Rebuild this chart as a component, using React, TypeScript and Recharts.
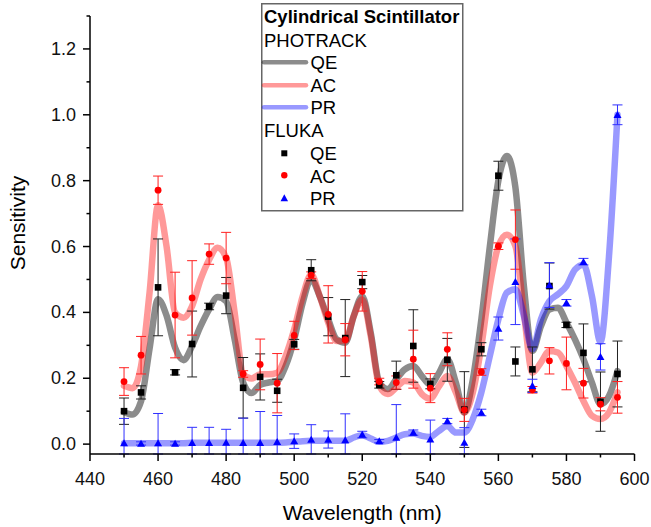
import React from "react";
import { ComposedChart, Line, Scatter, ErrorBar, XAxis, YAxis, Legend } from "recharts";

const FONT = "'Liberation Sans', Arial, Helvetica, sans-serif";

// FLUKA points (every 5 nm)
const flukaWl = [450, 455, 460, 465, 470, 475, 480, 485, 490, 495, 500, 505, 510, 515, 520, 525, 530, 535, 540, 545, 550, 555, 560, 565, 570, 575, 580, 585, 590, 595];
const flukaQE = [0.1, 0.157, 0.476, 0.218, 0.304, 0.418, 0.451, 0.171, 0.204, 0.162, 0.303, 0.528, 0.387, 0.322, 0.492, 0.18, 0.209, 0.298, 0.183, 0.256, 0.105, 0.288, 0.815, 0.251, 0.227, 0.48, 0.362, 0.277, 0.129, 0.213];
const flukaQEErr = [0.04, 0.02, 0.147, 0.008, 0.1, 0.01, 0.055, 0.092, 0.07, 0.035, 0.015, 0.032, 0.058, 0.117, 0.02, 0.01, 0.043, 0.11, 0.015, 0.065, 0.115, 0.02, 0.044, 0.044, 0.068, 0.07, 0.008, 0.088, 0.09, 0.1];
const flukaAC = [0.19, 0.27, 0.771, 0.392, 0.444, 0.577, 0.565, 0.213, 0.242, 0.185, 0.33, 0.513, 0.394, 0.317, 0.464, 0.19, 0.187, 0.258, 0.17, 0.288, 0.104, 0.219, 0.601, 0.621, 0.165, 0.253, 0.245, 0.185, 0.121, 0.142];
const flukaACErr = [0.042, 0.057, 0.043, 0.13, 0.113, 0.031, 0.078, 0.01, 0.077, 0.09, 0.043, 0.01, 0.087, 0.049, 0.06, 0.01, 0.02, 0.088, 0.044, 0.05, 0.035, 0.01, 0.01, 0.09, 0.01, 0.04, 0.08, 0.045, 0.02, 0.048];
const flukaPR = [0.003, 0.002, 0.003, 0.002, 0.004, 0.004, 0.005, 0.004, 0.004, 0.007, 0.009, 0.014, 0.014, 0.012, 0.029, 0.009, 0.02, 0.035, 0.015, 0.07, 0.005, 0.096, 0.351, 0.493, 0.177, 0.483, 0.429, 0.554, 0.265, 1.0];
const flukaPRErr = [0.075, 0.005, 0.09, 0.005, 0.047, 0.047, 0.04, 0.075, 0.095, 0.08, 0.022, 0.045, 0.026, 0.08, 0.01, 0.005, 0.1, 0.008, 0.058, 0.008, 0.045, 0.01, 0.035, 0.13, 0.02, 0.068, 0.01, 0.01, 0.04, 0.03];

// PHOTRACK curves (every 2.5 nm)
const photWl = [450, 452.5, 455, 457.5, 460, 462.5, 465, 467.5, 470, 472.5, 475, 477.5, 480, 482.5, 485, 487.5, 490, 492.5, 495, 497.5, 500, 502.5, 505, 507.5, 510, 512.5, 515, 517.5, 520, 522.5, 525, 527.5, 530, 532.5, 535, 537.5, 540, 542.5, 545, 547.5, 550, 552.5, 555, 557.5, 560, 562.5, 565, 567.5, 570, 572.5, 575, 577.5, 580, 582.5, 585, 587.5, 590, 592.5, 595];
const photQE = [0.097, 0.09, 0.13, 0.29, 0.44, 0.39, 0.293, 0.255, 0.298, 0.358, 0.409, 0.447, 0.434, 0.318, 0.187, 0.155, 0.18, 0.187, 0.192, 0.237, 0.318, 0.429, 0.5, 0.449, 0.379, 0.318, 0.308, 0.389, 0.449, 0.338, 0.187, 0.167, 0.197, 0.227, 0.237, 0.207, 0.18, 0.215, 0.258, 0.187, 0.096, 0.197, 0.379, 0.601, 0.8, 0.875, 0.78, 0.48, 0.283, 0.358, 0.409, 0.414, 0.369, 0.318, 0.258, 0.187, 0.121, 0.146, 0.222];
const photAC = [0.177, 0.17, 0.237, 0.46, 0.725, 0.6, 0.399, 0.384, 0.419, 0.5, 0.56, 0.596, 0.566, 0.4, 0.212, 0.199, 0.212, 0.212, 0.217, 0.268, 0.348, 0.449, 0.515, 0.449, 0.369, 0.313, 0.313, 0.389, 0.439, 0.328, 0.177, 0.152, 0.172, 0.192, 0.187, 0.152, 0.138, 0.175, 0.207, 0.157, 0.096, 0.157, 0.298, 0.48, 0.601, 0.636, 0.601, 0.399, 0.217, 0.248, 0.283, 0.278, 0.237, 0.187, 0.131, 0.086, 0.076, 0.096, 0.157];
const photPR = [0.003, 0.003, 0.003, 0.003, 0.003, 0.003, 0.003, 0.003, 0.004, 0.004, 0.004, 0.004, 0.004, 0.004, 0.004, 0.004, 0.004, 0.004, 0.004, 0.005, 0.007, 0.009, 0.01, 0.01, 0.01, 0.01, 0.01, 0.02, 0.027, 0.017, 0.007, 0.01, 0.02, 0.03, 0.032, 0.025, 0.022, 0.04, 0.055, 0.035, 0.035, 0.076, 0.157, 0.268, 0.379, 0.46, 0.47, 0.389, 0.288, 0.379, 0.434, 0.455, 0.48, 0.53, 0.545, 0.449, 0.31, 0.57, 1.0];

const xTicks = [440, 450, 460, 470, 480, 490, 500, 510, 520, 530, 540, 550, 560, 570, 580, 590, 600];
const yTicks = [0, 0.1, 0.2, 0.3, 0.4, 0.5, 0.6, 0.7, 0.8, 0.9, 1.0, 1.1, 1.2, 1.3];
const Y_MIN = -0.03;
const Y_MAX = 1.3;

const curve = (ys: number[]) => photWl.map((x, i) => ({ x, y: ys[i] }));
// error bars are cut off at the bottom of the axis, like in the original plot
const points = (ys: number[], errs: number[]) =>
  flukaWl.map((x, i) => ({ x, y: ys[i], err: [Math.min(errs[i], ys[i] - Y_MIN), errs[i]] }));

const QE_LINE = { stroke: "#000", opacity: 0.45 };
const AC_LINE = { stroke: "#ff0000", opacity: 0.4 };
const PR_LINE = { stroke: "#0000ff", opacity: 0.4 };

function XTick({ x, y, payload }: any) {
  const major = payload.value % 20 === 0;
  return (
    <g>
      <line x1={x} x2={x} y1={y} y2={y + (major ? 7 : 3.5)} stroke="#000" strokeWidth={1.5} />
      {major && (
        <text x={x} y={y + 30.5} textAnchor="middle" fontSize={18} fontFamily={FONT} fill="#111">
          {payload.value}
        </text>
      )}
    </g>
  );
}

function YTick({ x, y, payload }: any) {
  const major = Math.round(payload.value * 10) % 2 === 0;
  return (
    <g>
      <line x1={x - (major ? 7 : 3.5)} x2={x} y1={y} y2={y} stroke="#000" strokeWidth={1.5} />
      {major && (
        <text x={x - 14} y={y + 6} textAnchor="end" fontSize={18} fontFamily={FONT} fill="#111">
          {payload.value.toFixed(1)}
        </text>
      )}
    </g>
  );
}

const Square = ({ cx, cy, fill = "#000", s = 6.6 }: any) => <rect x={cx - s / 2} y={cy - s / 2} width={s} height={s} fill={fill} />;
const Dot = ({ cx, cy, fill = "#ff0000", r = 3.4 }: any) => <circle cx={cx} cy={cy} r={r} fill={fill} />;
const Tri = ({ cx, cy, fill = "#0000ff", w = 8 }: any) => (
  <polygon points={`${cx - w / 2},${cy + 3.2} ${cx + w / 2},${cy + 3.2} ${cx},${cy - 3.8}`} fill={fill} />
);

function LegendBox() {
  const t = { fontFamily: FONT, fontSize: 18.5, fill: "#000" } as const;
  return (
    <svg width={203} height={209} style={{ display: "block" }}>
      <rect x={0.75} y={0.75} width={201} height={207} fill="#fff" stroke="#666" strokeWidth={1.5} />
      <text x={3} y={19.7} {...t} fontWeight="bold">Cylindrical Scintillator</text>
      <text x={3} y={43.7} {...t}>PHOTRACK</text>
      <line x1={3} x2={45} y1={59.3} y2={59.3} strokeWidth={4.5} strokeLinecap="round" stroke={QE_LINE.stroke} strokeOpacity={QE_LINE.opacity} />
      <text x={49.5} y={65.5} {...t}>QE</text>
      <line x1={3} x2={45} y1={82.3} y2={82.3} strokeWidth={4.5} strokeLinecap="round" stroke={AC_LINE.stroke} strokeOpacity={AC_LINE.opacity} />
      <text x={49.5} y={88.7} {...t}>AC</text>
      <line x1={3} x2={45} y1={104.3} y2={104.3} strokeWidth={4.5} strokeLinecap="round" stroke={PR_LINE.stroke} strokeOpacity={PR_LINE.opacity} />
      <text x={49.5} y={111} {...t}>PR</text>
      <text x={3} y={134.3} {...t}>FLUKA</text>
      <Square cx={23.3} cy={150.3} s={6} />
      <text x={49} y={157} {...t}>QE</text>
      <Dot cx={23.3} cy={172.3} r={3.2} />
      <text x={49} y={179.7} {...t}>AC</text>
      <Tri cx={23.3} cy={195} w={7.5} />
      <text x={49} y={201.7} {...t}>PR</text>
    </svg>
  );
}

const yLabel = (props: any) => {
  const vb = props.viewBox;
  const cy = vb.y + vb.height / 2 - 12;
  return (
    <text x={25} y={cy} transform={`rotate(-90, 25, ${cy})`} textAnchor="middle" fontSize={21} fontFamily={FONT} fill="#000">
      Sensitivity
    </text>
  );
};

export default function App() {
  return (
    <div style={{ position: "absolute", left: 0, top: 0, width: 651, height: 527, background: "#fff" }}>
      <ComposedChart width={651} height={527} margin={{ top: 16, right: 16.5, bottom: 0, left: 0 }}>
        <XAxis
          type="number"
          dataKey="x"
          domain={[440, 600]}
          ticks={xTicks}
          interval={0}
          allowDataOverflow
          height={73}
          tickSize={0}
          tickMargin={0}
          tickLine={false}
          tick={<XTick />}
          axisLine={{ stroke: "#000", strokeWidth: 1.5 }}
          label={{ value: "Wavelength (nm)", position: "insideBottom", offset: 7, fontSize: 21, fontFamily: FONT, fill: "#000" }}
        />
        <YAxis
          type="number"
          dataKey="y"
          domain={[Y_MIN, Y_MAX]}
          ticks={yTicks}
          interval={0}
          allowDataOverflow
          width={90}
          tickSize={0}
          tickMargin={0}
          tickLine={false}
          tick={<YTick />}
          axisLine={{ stroke: "#000", strokeWidth: 1.5 }}
          label={yLabel}
        />
        <Legend
          layout="vertical"
          align="center"
          verticalAlign="middle"
          content={() => <LegendBox />}
          wrapperStyle={{ left: 261, top: 3, width: 203, height: 209 }}
        />
        <Line data={curve(photQE)} dataKey="y" type="monotone" dot={false} isAnimationActive={false}
          stroke={QE_LINE.stroke} strokeOpacity={QE_LINE.opacity} strokeWidth={6.5} strokeLinecap="round" strokeLinejoin="round" />
        <Line data={curve(photAC)} dataKey="y" type="monotone" dot={false} isAnimationActive={false}
          stroke={AC_LINE.stroke} strokeOpacity={AC_LINE.opacity} strokeWidth={6.5} strokeLinecap="round" strokeLinejoin="round" />
        <Line data={curve(photPR)} dataKey="y" type="monotone" dot={false} isAnimationActive={false}
          stroke={PR_LINE.stroke} strokeOpacity={PR_LINE.opacity} strokeWidth={6.5} strokeLinecap="round" strokeLinejoin="round" />
        <Scatter data={points(flukaQE, flukaQEErr)} dataKey="y" shape={(p: any) => <Square {...p} fill="#000" />} isAnimationActive={false}>
          <ErrorBar dataKey="err" direction="y" width={5} stroke="#222" strokeWidth={1} />
        </Scatter>
        <Scatter data={points(flukaAC, flukaACErr)} dataKey="y" shape={(p: any) => <Dot {...p} fill="#ff0000" />} isAnimationActive={false}>
          <ErrorBar dataKey="err" direction="y" width={5} stroke="#ff2020" strokeWidth={1} />
        </Scatter>
        <Scatter data={points(flukaPR, flukaPRErr)} dataKey="y" shape={(p: any) => <Tri {...p} fill="#0000ff" />} isAnimationActive={false}>
          <ErrorBar dataKey="err" direction="y" width={5} stroke="#3030ff" strokeWidth={1} />
        </Scatter>
      </ComposedChart>
    </div>
  );
}
